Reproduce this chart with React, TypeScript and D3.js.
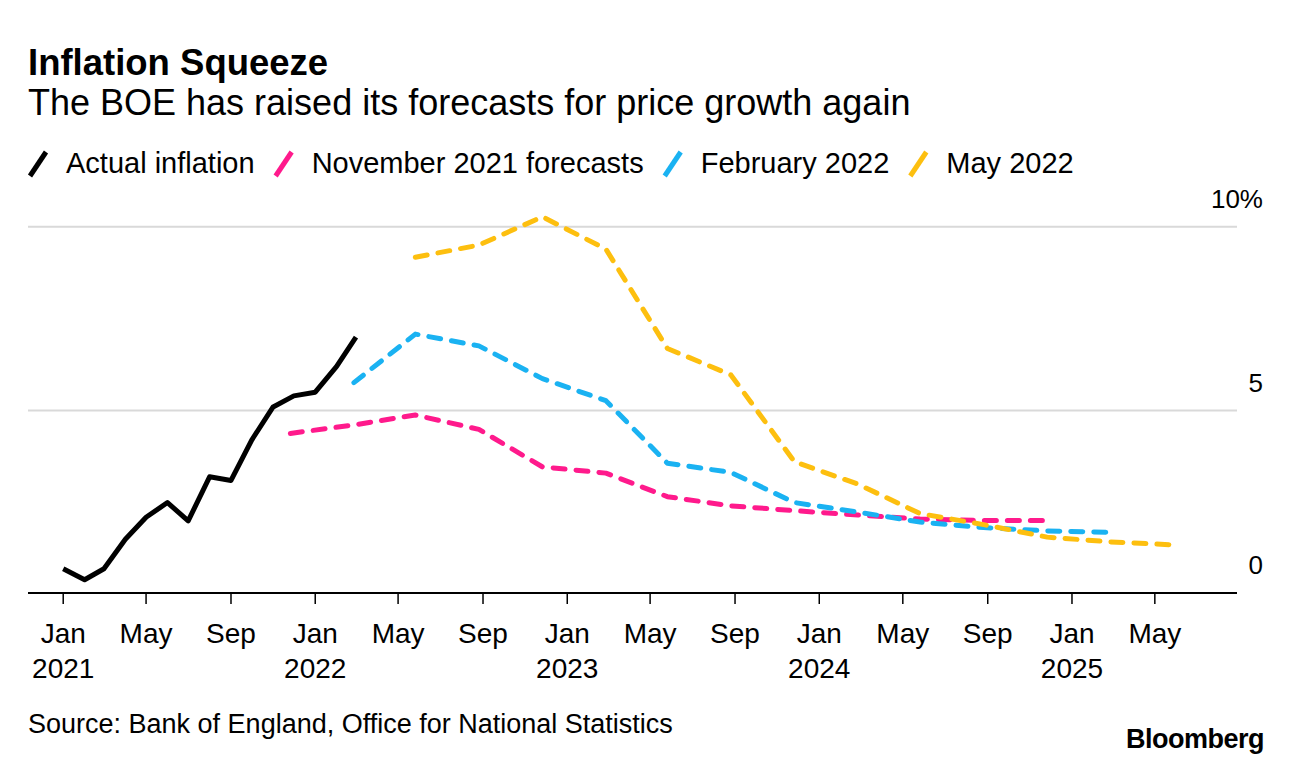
import React, { useEffect, useRef } from "react";
import * as d3 from "d3";

// ---------- data ----------
const actualDates = [
  "2021-01-01", "2021-02-01", "2021-03-01", "2021-04-01", "2021-05-01", "2021-06-01",
  "2021-07-01", "2021-08-01", "2021-09-01", "2021-10-01", "2021-11-01", "2021-12-01",
  "2022-01-01", "2022-02-01", "2022-03-01",
];
const actualValues = [0.7, 0.4, 0.7, 1.5, 2.1, 2.5, 2.0, 3.2, 3.1, 4.2, 5.1, 5.4, 5.5, 6.2, 7.0];

const nov21Dates = [
  "2021-11-26", "2022-02-26", "2022-05-26", "2022-08-26", "2022-11-26", "2023-02-26", "2023-05-26",
  "2023-08-26", "2023-11-26", "2024-02-26", "2024-05-26", "2024-08-26", "2024-11-26",
];
const nov21Values = [4.38, 4.61, 4.88, 4.49, 3.47, 3.3, 2.66, 2.41, 2.28, 2.16, 2.05, 2.01, 2.01];

const feb22Dates = [
  "2022-02-26", "2022-05-26", "2022-08-26", "2022-11-26", "2023-02-26", "2023-05-26", "2023-08-26",
  "2023-11-26", "2024-02-26", "2024-05-26", "2024-08-26", "2024-11-26", "2025-02-26",
];
const feb22Values = [5.76, 7.08, 6.76, 5.87, 5.27, 3.57, 3.32, 2.5, 2.24, 1.97, 1.82, 1.73, 1.69];

const may22Dates = [
  "2022-05-26", "2022-08-26", "2022-11-26", "2023-02-26", "2023-05-26", "2023-08-26", "2023-11-26",
  "2024-02-26", "2024-05-26", "2024-08-26", "2024-11-26", "2025-02-26", "2025-05-26",
];
const may22Values = [9.17, 9.5, 10.27, 9.39, 6.69, 5.97, 3.61, 3.0, 2.2, 1.9, 1.56, 1.43, 1.35];

const seriesNames = ["Actual inflation", "November 2021 forecasts", "February 2022", "May 2022"];
const seriesColors = ["#000000", "#ff1a8c", "#1ab2f2", "#fdbf0f"];

const yTicks = [0, 5, 10];
const xDomain = ["2020-11-11", "2025-08-28"];

const title = "Inflation Squeeze";
const subtitle = "The BOE has raised its forecasts for price growth again";
const source = "Source: Bank of England, Office for National Statistics";
const brand = "Bloomberg";

// ---------- layout ----------
const W = 1292;
const H = 764;
const LEFT = 28;
const RIGHT = 1237;
const Y0 = 594.5;
const Y10 = 226.7;
const AXIS_Y = 593;
const FONT = "'Liberation Sans', Arial, Helvetica, sans-serif";

export default function App() {
  const ref = useRef<SVGSVGElement | null>(null);

  useEffect(() => {
    const svg = d3.select(ref.current);
    svg.selectAll("*").remove();
    const parse = d3.timeParse("%Y-%m-%d");

    const x = d3
      .scaleTime()
      .domain(xDomain.map((d) => parse(d) as Date))
      .range([LEFT, RIGHT]);
    const y = d3.scaleLinear().domain([0, 10]).range([Y0, Y10]);

    // title
    svg.append("text").attr("x", 28).attr("y", 75).attr("font-family", FONT)
      .attr("font-size", 36.5).attr("font-weight", "bold").attr("fill", "#000").text(title);
    svg.append("text").attr("x", 28).attr("y", 115).attr("font-family", FONT)
      .attr("font-size", 36).attr("fill", "#000").text(subtitle);

    // legend
    let lx = 30;
    const legendBase = 173;
    seriesNames.forEach((name, i) => {
      svg.append("line")
        .attr("x1", lx).attr("y1", legendBase + 3)
        .attr("x2", lx + 16).attr("y2", legendBase - 21)
        .attr("stroke", seriesColors[i]).attr("stroke-width", 5);
      const t = svg.append("text").attr("x", lx + 36).attr("y", legendBase)
        .attr("font-family", FONT).attr("font-size", 29).attr("fill", "#000").text(name);
      const w = (t.node() as SVGTextElement).getComputedTextLength();
      lx = lx + 36 + w + 21;
    });

    // gridlines + y labels
    yTicks.forEach((v) => {
      if (v !== 0) {
        svg.append("line").attr("x1", LEFT).attr("x2", RIGHT)
          .attr("y1", y(v)).attr("y2", y(v))
          .attr("stroke", "#d9d9d9").attr("stroke-width", 2);
      }
      svg.append("text").attr("x", 1263).attr("y", y(v) - 19 - (v === 0 ? 2 : 0))
        .attr("text-anchor", "end").attr("font-family", FONT).attr("font-size", 26)
        .attr("fill", "#000").text(v === 10 ? "10%" : String(v));
    });

    // x axis
    svg.append("line").attr("x1", LEFT).attr("x2", RIGHT)
      .attr("y1", AXIS_Y).attr("y2", AXIS_Y)
      .attr("stroke", "#000").attr("stroke-width", 2);
    const ticks = x.ticks(d3.timeMonth.every(4) as d3.TimeInterval);
    const fmtM = d3.timeFormat("%b");
    const fmtY = d3.timeFormat("%Y");
    ticks.forEach((d) => {
      const tx = x(d);
      svg.append("line").attr("x1", tx).attr("x2", tx)
        .attr("y1", AXIS_Y).attr("y2", AXIS_Y + 11)
        .attr("stroke", "#000").attr("stroke-width", 1.5);
      svg.append("text").attr("x", tx).attr("y", 643).attr("text-anchor", "middle")
        .attr("font-family", FONT).attr("font-size", 28).attr("fill", "#000").text(fmtM(d));
      if (d.getMonth() === 0) {
        svg.append("text").attr("x", tx).attr("y", 678).attr("text-anchor", "middle")
          .attr("font-family", FONT).attr("font-size", 28).attr("fill", "#000").text(fmtY(d));
      }
    });

    // lines
    const line = d3.line<[Date, number]>().x((d) => x(d[0])).y((d) => y(d[1]));
    const series: [string[], number[], boolean][] = [
      [actualDates, actualValues, false],
      [nov21Dates, nov21Values, true],
      [feb22Dates, feb22Values, true],
      [may22Dates, may22Values, true],
    ];
    series.forEach(([dates, vals, dashed], i) => {
      const pts: [Date, number][] = dates.map((d, k) => [parse(d) as Date, vals[k]]);
      const p = svg.append("path").attr("d", line(pts) as string)
        .attr("fill", "none").attr("stroke", seriesColors[i])
        .attr("stroke-width", 5).attr("stroke-linejoin", "round");
      if (dashed) {
        p.attr("stroke-dasharray", "12 11").attr("stroke-linecap", "round");
      } else {
        p.attr("stroke-linecap", "butt");
      }
    });

    // footer
    svg.append("text").attr("x", 28).attr("y", 733).attr("font-family", FONT)
      .attr("font-size", 27).attr("fill", "#000").text(source);
    svg.append("text").attr("x", 1264).attr("y", 748).attr("text-anchor", "end")
      .attr("font-family", FONT).attr("font-size", 27).attr("font-weight", "bold")
      .attr("letter-spacing", -0.5).attr("fill", "#000").text(brand);
  }, []);

  return (
    <svg
      ref={ref}
      width={W}
      height={H}
      style={{ position: "absolute", left: 0, top: 0, background: "#fff" }}
    />
  );
}
